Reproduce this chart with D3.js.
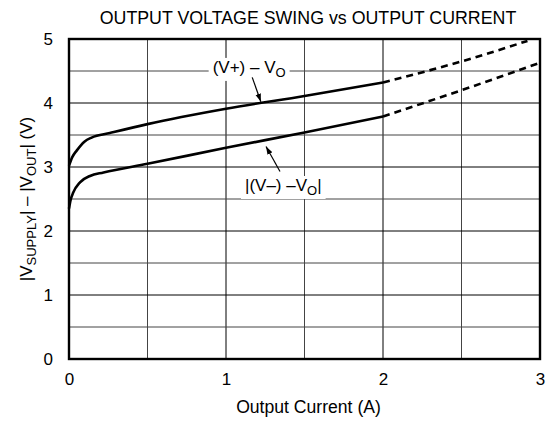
<!DOCTYPE html>
<html>
<head>
<meta charset="utf-8">
<script src="https://cdn.jsdelivr.net/npm/d3@7"></script>
<style>
  body { margin: 0; background: #fff; }
  svg text { font-family: "Liberation Sans", Arial, sans-serif; fill: #000; }
</style>
</head>
<body>
<div id="chart"></div>
<script>
// values
const xTicks = [0, 1, 2, 3];
const yTicks = [0, 1, 2, 3, 4, 5];
const xGrid = [0.5, 1, 1.5, 2, 2.5];
const yGrid = [0.5, 1, 1.5, 2, 2.5, 3, 3.5, 4, 4.5];

// (V+) - Vo, measured part and extrapolated part
const upperI = [0, 0.02, 0.05, 0.1, 0.144, 0.26, 0.5, 1.0, 1.5, 2.0];
const upperV = [3.02, 3.15, 3.26, 3.4, 3.46, 3.53, 3.67, 3.91, 4.11, 4.32];
const upperDashI = [2.0, 2.5, 2.92];
const upperDashV = [4.32, 4.65, 4.97];

// |(V-) - Vo|
const lowerI = [0, 0.01, 0.027, 0.07, 0.134, 0.22, 0.5, 1.0, 1.5, 2.0];
const lowerV = [2.35, 2.48, 2.6, 2.76, 2.86, 2.915, 3.05, 3.3, 3.54, 3.79];
const lowerDashI = [2.0, 2.5, 2.99];
const lowerDashV = [3.79, 4.2, 4.62];

const WIDTH = 552;
const HEIGHT = 422;
const MARGIN_TOP = 39;
const MARGIN_RIGHT = 12;
const MARGIN_BOTTOM = 63;
const MARGIN_LEFT = 69;

const svg = d3.select('#chart')
  .append('svg')
  .attr('width', WIDTH)
  .attr('height', HEIGHT);

const x = d3.scaleLinear().domain([0, 3]).range([MARGIN_LEFT, WIDTH - MARGIN_RIGHT]);
const y = d3.scaleLinear().domain([0, 5]).range([HEIGHT - MARGIN_BOTTOM, MARGIN_TOP]);

// grid
const grid = svg.append('g');
grid.selectAll('line.v')
  .data(xGrid)
  .enter()
  .append('line')
  .attr('x1', d => x(d)).attr('x2', d => x(d))
  .attr('y1', y(0)).attr('y2', y(5))
  .attr('stroke', d => (d % 1 === 0 ? '#000' : '#444'))
  .attr('stroke-width', 1);
grid.selectAll('line.h')
  .data(yGrid)
  .enter()
  .append('line')
  .attr('y1', d => y(d)).attr('y2', d => y(d))
  .attr('x1', x(0)).attr('x2', x(3))
  .attr('stroke', d => (d % 1 === 0 ? '#000' : '#444'))
  .attr('stroke-width', 1);

// axes
const xAxis = d3.axisBottom(x).tickValues(xTicks).tickSize(0).tickPadding(14).tickFormat(d3.format('d'));
const yAxis = d3.axisLeft(y).tickValues(yTicks).tickSize(0).tickPadding(16).tickFormat(d3.format('d'));

svg.append('g')
  .attr('transform', `translate(0,${y(0)})`)
  .call(xAxis)
  .call(g => g.select('.domain').remove())
  .selectAll('text')
  .style('font-size', '17px')
  .style('font-family', '"Liberation Sans", Arial, sans-serif')
  .attr('fill', '#000');

svg.append('g')
  .attr('transform', `translate(${x(0)},0)`)
  .call(yAxis)
  .call(g => g.select('.domain').remove())
  .selectAll('text')
  .style('font-size', '17px')
  .style('font-family', '"Liberation Sans", Arial, sans-serif')
  .attr('fill', '#000');

// curves
const line = d3.line()
  .x(d => x(d[0]))
  .y(d => y(d[1]))
  .curve(d3.curveMonotoneX);

const zip = (a, b) => a.map((v, i) => [v, b[i]]);

const curves = [
  { pts: zip(upperI, upperV), dash: null },
  { pts: zip(upperDashI, upperDashV), dash: '7,5' },
  { pts: zip(lowerI, lowerV), dash: null },
  { pts: zip(lowerDashI, lowerDashV), dash: '7,5' }
];

svg.append('g')
  .selectAll('path')
  .data(curves)
  .enter()
  .append('path')
  .attr('d', d => line(d.pts))
  .attr('fill', 'none')
  .attr('stroke', '#000')
  .attr('stroke-width', 2.6)
  .attr('stroke-dasharray', d => d.dash);

// annotations (positions in data units)
const labels = [
  { at: [0.915, 4.47], parts: [['(V+) – V', false], ['O', true]], arrow: [[1.167, 4.40], [1.222, 4.02]] },
  { at: [1.121, 2.625], parts: [['|(V–) –V', false], ['O', true], ['|', false]], arrow: [[1.344, 2.93], [1.255, 3.32]] }
];

svg.append('defs')
  .append('marker')
  .attr('id', 'head')
  .attr('viewBox', '0 0 10 10')
  .attr('refX', 10).attr('refY', 5)
  .attr('markerWidth', 8).attr('markerHeight', 8)
  .attr('markerUnits', 'userSpaceOnUse')
  .attr('orient', 'auto')
  .append('path')
  .attr('d', 'M0,1.5 L10,5 L0,8.5 Z')
  .attr('fill', '#000');

labels.forEach(l => {
  const g = svg.append('g');
  const bg = g.append('rect').attr('fill', '#fff');
  const t = g.append('text')
    .attr('x', x(l.at[0]))
    .attr('y', y(l.at[1]))
    .style('font-size', '17px');
  l.parts.forEach(p => {
    t.append('tspan')
      .attr('dy', p[1] ? 4 : (t.selectAll('tspan').size() > 1 ? -4 : 0))
      .style('font-size', p[1] ? '13px' : '17px')
      .text(p[0]);
  });
  const bb = t.node().getBBox();
  bg.attr('x', bb.x - 4).attr('y', bb.y).attr('width', bb.width + 8).attr('height', bb.height + 1);

  svg.append('line')
    .attr('x1', x(l.arrow[0][0])).attr('y1', y(l.arrow[0][1]))
    .attr('x2', x(l.arrow[1][0])).attr('y2', y(l.arrow[1][1]))
    .attr('stroke', '#000')
    .attr('stroke-width', 1.2)
    .attr('marker-end', 'url(#head)');
});

// plot frame
svg.append('rect')
  .attr('x', x(0)).attr('y', y(5))
  .attr('width', x(3) - x(0)).attr('height', y(0) - y(5))
  .attr('fill', 'none')
  .attr('stroke', '#000')
  .attr('stroke-width', 2.4);

// titles
svg.append('text')
  .attr('x', 308)
  .attr('y', 24)
  .attr('text-anchor', 'middle')
  .style('font-size', '17.8px')
  .text('OUTPUT VOLTAGE SWING vs OUTPUT CURRENT');

svg.append('text')
  .attr('x', (x(0) + x(3)) / 2 + 4)
  .attr('y', 413)
  .attr('text-anchor', 'middle')
  .style('font-size', '17.6px')
  .text('Output Current (A)');

const yl = svg.append('text')
  .attr('transform', `translate(32,${(y(0) + y(5)) / 2}) rotate(-90)`)
  .attr('text-anchor', 'middle')
  .style('font-size', '17px');
[['|V', 0], ['SUPPLY', 4], ['| – |V', -4], ['OUT', 4], ['| (V)', -4]].forEach((p, i) => {
  yl.append('tspan')
    .attr('dy', p[1])
    .style('font-size', i % 2 === 1 ? '13px' : '17px')
    .text(p[0]);
});
</script>
</body>
</html>
